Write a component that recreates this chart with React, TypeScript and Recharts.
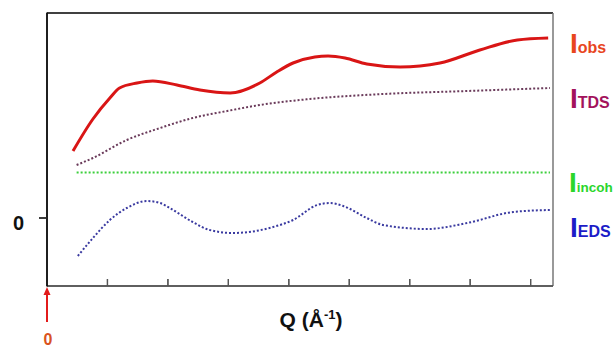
import { LineChart, Line, XAxis, YAxis, ReferenceLine } from "recharts";

// Q positions (tick units) and intensities
const obsQ = [0.43, 0.76, 1.04, 1.2, 1.49, 1.75, 2.15, 2.53, 3.03, 3.52, 3.8, 4.07, 4.43, 4.65, 4.93, 5.29, 5.84, 6.5, 7.16, 7.78, 8.29];
const obsI = [6.7, 9.9, 12.0, 13.0, 13.5, 13.7, 13.3, 12.8, 12.5, 13.5, 14.6, 15.5, 16.1, 16.2, 16.0, 15.4, 15.1, 15.5, 16.8, 17.8, 18.0];

const tdsQ = [0.49, 0.76, 1.32, 1.87, 2.41, 2.98, 3.52, 4.35, 5.56, 6.95, 8.32];
const tdsI = [5.3, 6.0, 7.8, 9.0, 10.0, 10.7, 11.3, 11.9, 12.4, 12.7, 13.0];

const incohQ = [0.49, 2.0, 4.0, 6.0, 8.32];
const incohI = [4.55, 4.55, 4.55, 4.55, 4.55];

const edsQ = [0.51, 0.76, 1.04, 1.32, 1.65, 1.87, 2.03, 2.41, 2.69, 3.08, 3.74, 4.07, 4.47, 4.68, 4.9, 5.29, 5.56, 6.29, 6.95, 7.71, 8.32];
const edsI = [-3.8, -2.0, -0.2, 1.0, 1.7, 1.5, 1.0, -0.4, -1.2, -1.5, -0.9, -0.2, 1.3, 1.5, 1.2, 0.0, -0.7, -1.1, -0.5, 0.6, 0.8];

const qTicks = [1, 2, 3, 4, 5, 6, 7, 8];
const Q_MAX = 8.37;
const I_MIN = -6.8;
const I_MAX = 20.5;

const zip = (q: number[], v: number[]) => q.map((x, i) => ({ q: x, v: v[i] }));

const FONT = "'Liberation Sans', Arial, sans-serif";

const ZeroTick = (props: any) => (
  <text x={24} y={props.y + 12} textAnchor="end" fontFamily={FONT} fontWeight="bold" fontSize={20} fill="#111" stroke="none">
    {props.payload.value}
  </text>
);

export default function App() {
  return (
    <div style={{ position: "absolute", left: 0, top: 0, width: 615, height: 350, background: "#fff" }}>
      <LineChart width={615} height={350} margin={{ top: 13, right: 62, bottom: 0, left: 0 }}>
        <XAxis
          dataKey="q"
          type="number"
          domain={[0, Q_MAX]}
          ticks={qTicks}
          tickFormatter={() => ""}
          tickSize={-7}
          height={64}
          stroke="#555"
          strokeWidth={1.3}
        />
        <YAxis
          type="number"
          domain={[I_MIN, I_MAX]}
          ticks={[0]}
          width={47}
          tickSize={8}
          tickMargin={15}
          tick={ZeroTick}
          stroke="#111"
          strokeWidth={1.5}
        />
        <ReferenceLine y={I_MAX} stroke="#000" strokeWidth={1.5} />
        <ReferenceLine x={Q_MAX} stroke="#777" strokeWidth={1.5} />
        <ReferenceLine y={I_MIN} stroke="#555" strokeWidth={1.5} />
        {qTicks.map((t) => (
          <ReferenceLine key={t} segment={[{ x: t, y: I_MIN }, { x: t, y: I_MIN + 0.7 }]} stroke="#555" strokeWidth={1.2} />
        ))}
        <Line data={zip(incohQ, incohI)} dataKey="v" type="linear" stroke="#3ccf3c" strokeWidth={2} strokeDasharray="2 2" dot={false} isAnimationActive={false} />
        <Line data={zip(tdsQ, tdsI)} dataKey="v" type="monotone" stroke="#6a3a5a" strokeWidth={2} strokeDasharray="2 2" dot={false} isAnimationActive={false} />
        <Line data={zip(edsQ, edsI)} dataKey="v" type="monotone" stroke="#3a3aa0" strokeWidth={2} strokeDasharray="2 2" dot={false} isAnimationActive={false} />
        <Line data={zip(obsQ, obsI)} dataKey="v" type="monotone" stroke="#d91515" strokeWidth={3} dot={false} isAnimationActive={false} />
      </LineChart>
      {/* frame edge, arrow and labels drawn on top */}
      <svg width={615} height={350} style={{ position: "absolute", left: 0, top: 0, pointerEvents: "none" }} fontFamily={FONT} fontWeight="bold">
        <line x1={47} y1={12.5} x2={47} y2={286.5} stroke="#111" strokeWidth={1.5} />
        <line x1={39} y1={218} x2={47} y2={218} stroke="#333" strokeWidth={1.2} />
        <line x1={47} y1={322} x2={47} y2={293} stroke="#e21b1b" strokeWidth={2} />
        <polygon points="47,287 43.5,295 50.5,295" fill="#e21b1b" />
        <text x={48} y={345} textAnchor="middle" fontSize={16} fill="#d9531e">0</text>
        <text x={311} y={327} textAnchor="middle" fontSize={21} fill="#111">
          Q (Å<tspan fontSize={13} dy={-8}>-1</tspan><tspan dy={8}>)</tspan>
        </text>
        <text x={570} y={53} fontSize={28} fill="#e8461e">I<tspan fontSize={16}>obs</tspan></text>
        <text x={570} y={108} fontSize={28} fill="#a3125c">I<tspan fontSize={16}>TDS</tspan></text>
        <text x={569} y={192} fontSize={28} fill="#2bd62b">I<tspan fontSize={13.5}>incoh</tspan></text>
        <text x={570} y={237} fontSize={28} fill="#1c1cc8">I<tspan fontSize={16}>EDS</tspan></text>
      </svg>
    </div>
  );
}
